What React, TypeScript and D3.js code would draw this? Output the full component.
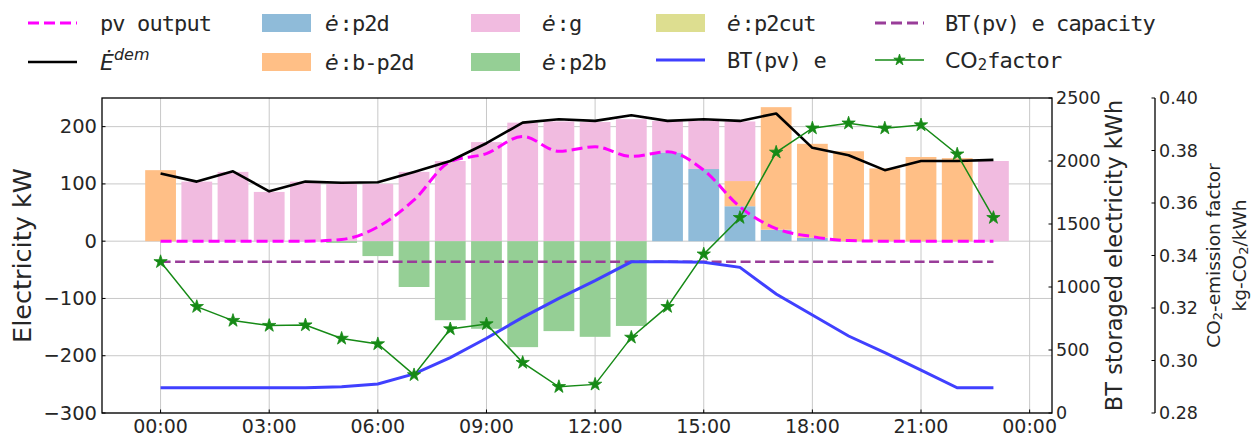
import React from 'react';
import * as d3 from 'd3';

const hours = [0, 1, 2, 3, 4, 5, 6, 7, 8, 9, 10, 11, 12, 13, 14, 15, 16, 17, 18, 19, 20, 21, 22, 23];
const eDem = [118, 104, 122, 87, 104, 102, 103, 121, 140, 171, 207, 213, 210, 220, 210, 213, 210, 223, 163, 150, 124, 140, 140, 142];
const pvOutput = [0, 0, 0, 0, 0, 3, 25, 72, 139, 153, 183, 157, 165, 148, 156, 124, 60, 22, 8, 1, 0, 0, 0, 0];
const eP2d = [0, 0, 0, 0, 0, 0, 0, 0, 0, 0, 0, 0, 0, 0, 155, 126, 61, 20, 6, 0, 0, 0, 0, 0];
const eBP2d = [124, 0, 0, 0, 0, 0, 0, 0, 0, 0, 0, 0, 0, 0, 0, 0, 44, 214, 164, 157, 127, 147, 145, 0];
const eG = [0, 104, 121, 86, 104, 100, 100, 121, 140, 173, 207, 209, 208, 213, 55, 84, 104, 0, 0, 0, 0, 0, 0, 140];
const eP2cut = [0, 0, 0, 0, 0, 0, 0, 0, 0, 0, 0, 0, 0, 0, 0, 0, 0, 0, 0, 0, 0, 0, 0, 0];
const eP2b = [0, 0, 0, 0, 0, -3, -26, -80, -138, -153, -185, -157, -167, -148, 0, 0, 0, 0, 0, 0, 0, 0, 0, 0];
const btE = [200, 200, 200, 200, 200, 209, 230, 310, 439, 593, 759, 910, 1050, 1200, 1200, 1196, 1156, 944, 778, 611, 479, 341, 200, 200];
const btCapacity = [1200, 1200, 1200, 1200, 1200, 1200, 1200, 1200, 1200, 1200, 1200, 1200, 1200, 1200, 1200, 1200, 1200, 1200, 1200, 1200, 1200, 1200, 1200, 1200];
const co2Factor = [0.3376, 0.3205, 0.3152, 0.3133, 0.3135, 0.3084, 0.3063, 0.2945, 0.312, 0.3139, 0.2992, 0.29, 0.2909, 0.3088, 0.3205, 0.3405, 0.3544, 0.3793, 0.3885, 0.3904, 0.3885, 0.3897, 0.3786, 0.3544];

const xTicks = [0, 3, 6, 9, 12, 15, 18, 21, 24];
const xTickLabels = ['00:00', '03:00', '06:00', '09:00', '12:00', '15:00', '18:00', '21:00', '00:00'];
const yLeftTicks = [-300, -200, -100, 0, 100, 200];
const yBTTicks = [0, 500, 1000, 1500, 2000, 2500];
const yCO2Ticks = [0.28, 0.3, 0.32, 0.34, 0.36, 0.38, 0.4];

const C = {
  p2d: '#8fbbd9',
  bp2d: '#ffbf86',
  g: '#f1bbe0',
  p2cut: '#ddde90',
  p2b: '#95cf95',
  pv: '#ff00ff',
  dem: '#000000',
  bt: '#4040ff',
  cap: '#993d99',
  co2: '#168a16',
};

const SANS = 'DejaVu Sans, sans-serif';
const MONO = 'DejaVu Sans Mono, monospace';
const TXT = '#262626';

export default function App() {
  const W = 1255, H = 437;
  const L = 102, R = 1052, T = 98, B = 413;
  const x = d3.scaleLinear().domain([-1.6175, 24.6175]).range([L, R]);
  const yL = d3.scaleLinear().domain([-300, 250]).range([B, T]);
  const yBT = d3.scaleLinear().domain([0, 2500]).range([B, T]);
  const yC = d3.scaleLinear().domain([0.28, 0.4]).range([B, T]);
  const bw = x(0.85) - x(0);

  const table = hours.map((h, i) => ({ h, p2d: eP2d[i], bp2d: eBP2d[i], g: eG[i], p2cut: eP2cut[i], p2b: eP2b[i] }));
  const keys = ['p2d', 'bp2d', 'g', 'p2cut', 'p2b'];
  const stacked = d3.stack<any>().keys(keys).offset(d3.stackOffsetDiverging)(table);

  const pvLine = d3.line<number>().x((_, i) => x(hours[i])).y(d => yL(d)).curve(d3.curveMonotoneX);
  const lineL = d3.line<number>().x((_, i) => x(hours[i])).y(d => yL(d));
  const lineBT = d3.line<number>().x((_, i) => x(hours[i])).y(d => yBT(d));
  const lineC = d3.line<number>().x((_, i) => x(hours[i])).y(d => yC(d));
  const star = d3.symbol().type(d3.symbolStar).size(55)();
  const legendStar = d3.symbol().type(d3.symbolStar).size(40)();

  const cols = [28, 262, 471, 656, 875];
  const tcols = [100, 325, 542, 727, 945];
  const rows = [23, 62];
  const hl = 49;

  const patch = (cx: number, cy: number, color: string) => (
    <rect x={cx} y={cy - 9} width={hl} height={18} fill={color} />
  );
  const eLabel = (cx: number, cy: number, rest: string) => (
    <text x={cx} y={cy} dominantBaseline="central" fontSize={22} fill={TXT}>
      <tspan fontFamily={SANS} fontStyle="italic">ė</tspan>
      <tspan fontFamily={MONO} letterSpacing={-0.9} dx={1}>{rest}</tspan>
    </text>
  );
  const monoLabel = (cx: number, cy: number, s: string) => (
    <text x={cx} y={cy} dominantBaseline="central" fontSize={22} fontFamily={MONO} letterSpacing={-0.9} fill={TXT}>{s}</text>
  );

  return (
    <svg width={W} height={H} style={{ position: 'absolute', left: 0, top: 0, background: '#fff' }}>
      {/* grid */}
      <g stroke="#c8c8c8" strokeWidth={1}>
        {xTicks.map(t => <line key={'gx' + t} x1={x(t)} x2={x(t)} y1={T} y2={B} />)}
        {yLeftTicks.map(t => <line key={'gy' + t} x1={L} x2={R} y1={yL(t)} y2={yL(t)} />)}
      </g>
      {/* bars */}
      {stacked.map(s => (
        <g key={s.key} fill={(C as any)[s.key]}>
          {s.map((d, i) => {
            const y0 = yL(d[0]), y1 = yL(d[1]);
            const h = Math.abs(y0 - y1);
            if (h < 0.01) return null;
            return <rect key={i} x={x(hours[i]) - bw / 2} y={Math.min(y0, y1)} width={bw} height={h} />;
          })}
        </g>
      ))}
      {/* main lines */}
      <path d={pvLine(pvOutput) || ''} fill="none" stroke={C.pv} strokeWidth={3} strokeDasharray="11 5" />
      <path d={lineL(eDem) || ''} fill="none" stroke={C.dem} strokeWidth={2.6} strokeLinejoin="round" />
      {/* twin BT */}
      <path d={lineBT(btCapacity) || ''} fill="none" stroke={C.cap} strokeWidth={2.6} strokeDasharray="10 4.5" />
      <path d={lineBT(btE) || ''} fill="none" stroke={C.bt} strokeWidth={3} />
      {/* twin CO2 */}
      <path d={lineC(co2Factor) || ''} fill="none" stroke={C.co2} strokeWidth={1.5} />
      {co2Factor.map((v, i) => (
        <path key={'s' + i} d={star || ''} transform={`translate(${x(hours[i])},${yC(v)})`} fill={C.co2} stroke={C.co2} strokeWidth={0.8} />
      ))}

      {/* spines */}
      <rect x={L} y={T} width={R - L} height={B - T} fill="none" stroke="#000" strokeWidth={1.3} />
      <line x1={1155} x2={1155} y1={T} y2={B} stroke="#000" strokeWidth={1.3} />

      {/* ticks left */}
      {yLeftTicks.map(t => (
        <g key={'yl' + t}>
          <line x1={L} x2={L + 3.5} y1={yL(t)} y2={yL(t)} stroke="#000" />
          <text x={L - 5} y={yL(t)} textAnchor="end" dominantBaseline="central" fontFamily={SANS} fontSize={19.5} fill={TXT}>{t < 0 ? '\u2212' + Math.abs(t) : t}</text>
        </g>
      ))}
      {/* ticks bottom */}
      {xTicks.map((t, i) => (
        <g key={'xt' + i}>
          <line x1={x(t)} x2={x(t)} y1={B} y2={B - 3.5} stroke="#000" />
          <text x={x(t)} y={432.5} textAnchor="middle" fontFamily={SANS} fontSize={19} fill={TXT}>{xTickLabels[i]}</text>
        </g>
      ))}
      {/* ticks BT */}
      {yBTTicks.map(t => (
        <g key={'yb' + t}>
          <line x1={R - 3.5} x2={R} y1={yBT(t)} y2={yBT(t)} stroke="#000" />
          <text x={R + 4} y={yBT(t)} dominantBaseline="central" fontFamily={SANS} fontSize={17.5} fill={TXT}>{t}</text>
        </g>
      ))}
      {/* ticks CO2 */}
      {yCO2Ticks.map(t => (
        <g key={'yc' + t}>
          <line x1={1151.5} x2={1155} y1={yC(t)} y2={yC(t)} stroke="#000" />
          <text x={1159} y={yC(t)} dominantBaseline="central" fontFamily={SANS} fontSize={17.5} fill={TXT}>{t.toFixed(2)}</text>
        </g>
      ))}

      {/* axis labels */}
      <text transform={`translate(22,${(T + B) / 2}) rotate(-90)`} textAnchor="middle" dominantBaseline="central" fontFamily={SANS} fontSize={25.5} fill={TXT}>Electricity kW</text>
      <text transform={`translate(1114,${(T + B) / 2}) rotate(-90)`} textAnchor="middle" dominantBaseline="central" fontFamily={SANS} fontSize={22.5} fill={TXT}>BT storaged electricity kWh</text>
      <text transform={`translate(1213,${(T + B) / 2}) rotate(-90)`} textAnchor="middle" dominantBaseline="central" fontFamily={SANS} fontSize={18.5} fill={TXT}>
        CO<tspan fontSize={13} dy={4}>2</tspan><tspan dy={-4}>-emission factor</tspan>
      </text>
      <text transform={`translate(1239,${(T + B) / 2}) rotate(-90)`} textAnchor="middle" dominantBaseline="central" fontFamily={SANS} fontSize={18.5} fill={TXT}>
        kg-CO<tspan fontSize={13} dy={4}>2</tspan><tspan dy={-4}>/kWh</tspan>
      </text>

      {/* legend */}
      <g>
        <line x1={cols[0]} x2={cols[0] + hl} y1={rows[0]} y2={rows[0]} stroke={C.pv} strokeWidth={3} strokeDasharray="11 5" />
        {monoLabel(tcols[0], rows[0], 'pv output')}
        <line x1={cols[0]} x2={cols[0] + hl} y1={rows[1]} y2={rows[1]} stroke={C.dem} strokeWidth={2.6} />
        <text x={tcols[0]} y={rows[1] + 8} fontFamily={SANS} fontStyle="italic" fontSize={22} fill={TXT}>
          Ė<tspan fontSize={16} dy={-10}>dem</tspan>
        </text>

        {patch(cols[1], rows[0], C.p2d)}
        {eLabel(tcols[1], rows[0], ':p2d')}
        {patch(cols[1], rows[1], C.bp2d)}
        {eLabel(tcols[1], rows[1], ':b-p2d')}

        {patch(cols[2], rows[0], C.g)}
        {eLabel(tcols[2], rows[0], ':g')}
        {patch(cols[2], rows[1], C.p2b)}
        {eLabel(tcols[2], rows[1], ':p2b')}

        {patch(cols[3], rows[0], C.p2cut)}
        {eLabel(tcols[3], rows[0], ':p2cut')}
        <line x1={cols[3]} x2={cols[3] + hl} y1={rows[1] - 2} y2={rows[1] - 2} stroke={C.bt} strokeWidth={3} />
        {monoLabel(tcols[3], rows[1] - 2, 'BT(pv) e')}

        <line x1={cols[4]} x2={cols[4] + hl} y1={rows[0]} y2={rows[0]} stroke={C.cap} strokeWidth={3} strokeDasharray="11 5" />
        {monoLabel(tcols[4], rows[0], 'BT(pv) e capacity')}
        <line x1={cols[4]} x2={cols[4] + hl} y1={rows[1] - 2} y2={rows[1] - 2} stroke={C.co2} strokeWidth={1.5} />
        <path d={legendStar || ''} transform={`translate(${cols[4] + hl / 2},${rows[1] - 2})`} fill={C.co2} stroke={C.co2} strokeWidth={0.8} />
        <text x={tcols[4]} y={rows[1] - 2} dominantBaseline="central" fontSize={22} fill={TXT}>
          <tspan fontFamily={SANS}>CO</tspan>
          <tspan fontFamily={SANS} fontSize={15} dy={5}>2</tspan>
          <tspan fontFamily={MONO} letterSpacing={-0.9} dy={-5}>factor</tspan>
        </text>
      </g>
    </svg>
  );
}
